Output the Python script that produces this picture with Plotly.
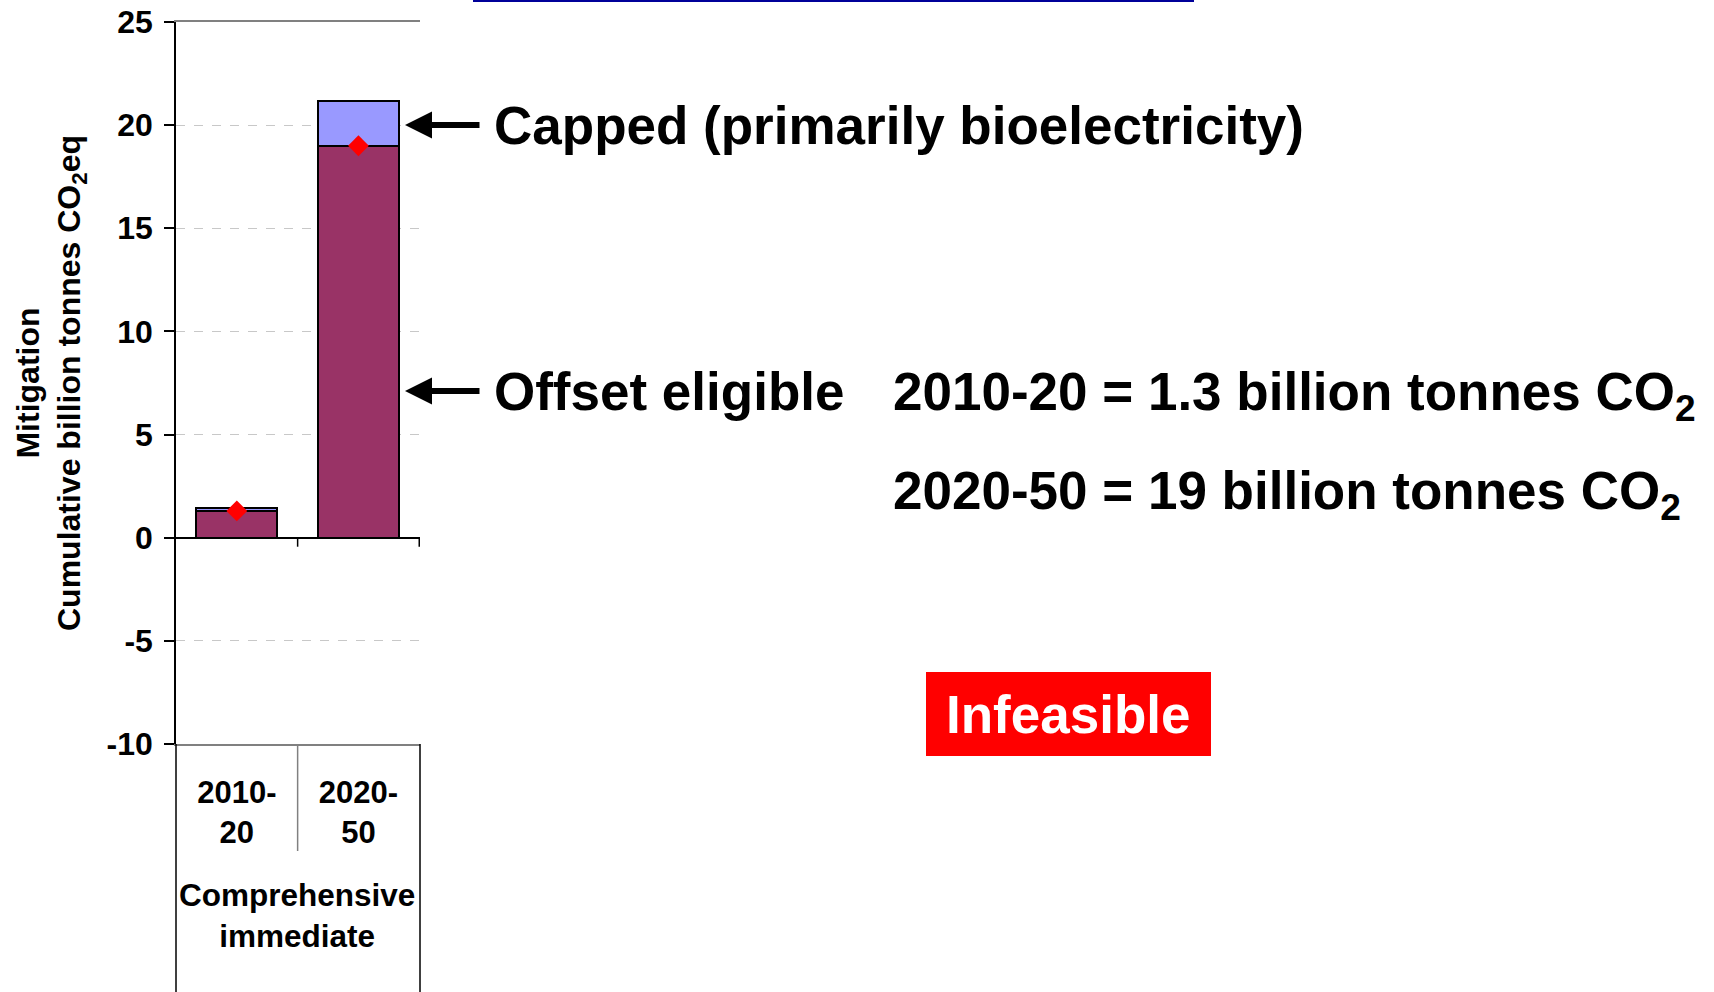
import plotly.graph_objects as go

# categories and values
periods = ["2010-<br>20", "2020-<br>50"]
offset_eligible = [1.3, 19.0]
capped = [0.15, 2.15]
estimate = [1.3, 19.0]
y_ticks = [-10, -5, 0, 5, 10, 15, 20, 25]
y_labels = ["-10", "-5", "0", "5", "10", "15", "20", "25"]

W, H = 1714, 992
# plot area in pixels
PL, PR, PT, PB = 176, 420, 22, 744


def px(x):
    return (x - PL) / (PR - PL)


def py(y):
    return (PB - y) / (PB - PT)


FONT = "Liberation Sans, Arial, sans-serif"

fig = go.Figure()

fig.add_trace(go.Bar(x=periods, y=offset_eligible, marker=dict(color="#993366", line=dict(color="black", width=2))))
fig.add_trace(go.Bar(x=periods, y=capped, marker=dict(color="#9999FF", line=dict(color="black", width=2))))
fig.add_trace(go.Scatter(x=periods, y=estimate, mode="markers",
                         marker=dict(symbol="diamond", color="#FF0000", size=16)))

fig.update_layout(
    width=W, height=H,
    barmode="stack", bargap=0.333,
    showlegend=False,
    plot_bgcolor="white", paper_bgcolor="white",
    margin=dict(l=PL, r=W - PR, t=PT, b=H - PB, autoexpand=False),
    font=dict(family=FONT, color="black"),
)

fig.update_xaxes(
    type="category",
    showline=True, linecolor="#808080", linewidth=1.5, mirror=True,
    ticks="", showgrid=False,
    tickfont=dict(size=31, weight="bold"),
    ticklabelstandoff=20,
)

fig.update_yaxes(
    range=[-10, 25], tickvals=y_ticks, ticktext=y_labels,
    showline=True, linecolor="black", linewidth=1.5,
    ticks="outside", ticklen=10, tickcolor="black", tickwidth=1.5,
    showgrid=True, gridcolor="#c8c8c8", griddash="dash", gridwidth=1,
    zeroline=True, zerolinecolor="black", zerolinewidth=1.5,
    tickfont=dict(size=32, weight="bold"),
    ticklabelstandoff=5,
    title=dict(text="Mitigation<br>Cumulative billion tonnes CO<sub>2</sub>eq",
               font=dict(size=32, weight="bold"), standoff=16),
)

shapes = []
# small ticks below the zero line at category boundaries
for xb in [0.5, 1.5]:
    shapes.append(dict(type="line", xref="x", yref="y", ysizemode="pixel", yanchor=0,
                       x0=xb, x1=xb, y0=0, y1=-9, line=dict(color="black", width=1.5)))
# multi-level category frame below the plot
shapes.append(dict(type="line", xref="x", yref="paper", x0=0.5, x1=0.5, y0=0, y1=py(851),
                   line=dict(color="#808080", width=1.5)))
for xp in [0, 1]:
    shapes.append(dict(type="line", xref="paper", yref="paper", x0=xp, x1=xp, y0=0, y1=py(H),
                       line=dict(color="black", width=1.5)))
# link underline at top
shapes.append(dict(type="line", xref="paper", yref="paper", x0=px(473), x1=px(1194), y0=py(1), y1=py(1),
                   line=dict(color="#000099", width=2)))
# Infeasible box
shapes.append(dict(type="rect", xref="paper", yref="paper", x0=px(926), x1=px(1211), y0=py(756), y1=py(672),
                   fillcolor="#FF0000", line=dict(width=0)))
fig.update_layout(shapes=shapes)

big = dict(family=FONT, size=53, color="black", weight="bold")
annotations = [
    dict(text="Capped (primarily bioelectricity)", x=px(492), y=py(126), xanchor="left", yanchor="middle", font=big),
    dict(text="Offset eligible", x=px(492), y=py(391), xanchor="left", yanchor="middle", font=big),
    dict(text="2010-20 = 1.3 billion tonnes CO<sub>2</sub>", x=px(891), y=py(395), xanchor="left", yanchor="middle", font=big),
    dict(text="2020-50 = 19 billion tonnes CO<sub>2</sub>", x=px(891), y=py(494), xanchor="left", yanchor="middle", font=big),
    dict(text="Infeasible", x=px(1068), y=py(714), xanchor="center", yanchor="middle",
         font=dict(family=FONT, size=53, color="white", weight="bold")),
    dict(text="Comprehensive<br>immediate", x=px(297), y=py(915), xanchor="center", yanchor="middle",
         font=dict(family=FONT, size=31.5, color="black", weight="bold")),
]
for ya in [125, 391]:
    annotations.append(dict(text="", x=px(405), y=py(ya), ax=76, ay=0, showarrow=True,
                            arrowhead=2, arrowwidth=6, arrowsize=0.9, arrowcolor="black"))
for a in annotations:
    a.setdefault("xref", "paper")
    a.setdefault("yref", "paper")
    a.setdefault("showarrow", False)
fig.update_layout(annotations=annotations)

fig.write_html("out.html", config={"displayModeBar": False},
               post_script="document.body.style.margin='0px';")
